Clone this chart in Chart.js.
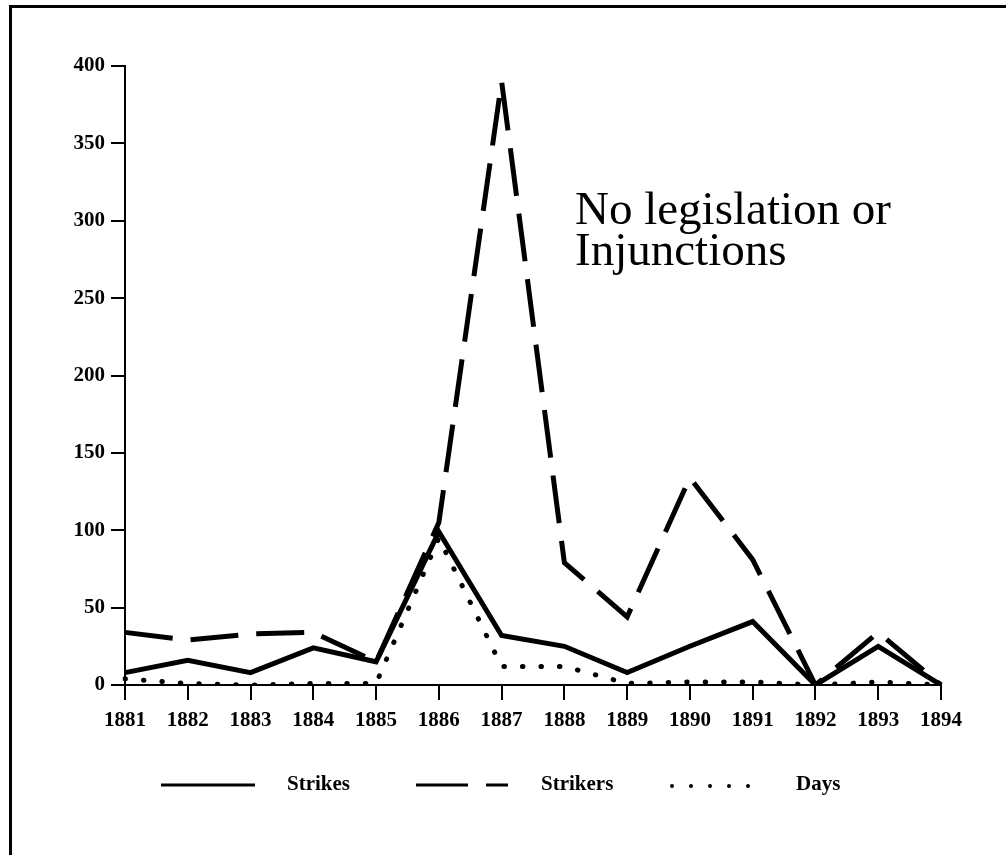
<!DOCTYPE html>
<html>
<head>
<meta charset="utf-8">
<script src="https://cdn.jsdelivr.net/npm/chart.js@4.4.0/dist/chart.umd.min.js"></script>
<style>
  html, body { margin: 0; padding: 0; background: #fff; }
  #wrap { position: relative; width: 1006px; height: 855px; }
</style>
</head>
<body>
<div id="wrap"><canvas id="lineChart" width="1006" height="855"></canvas></div>
<script>
var years = ['1881', '1882', '1883', '1884', '1885', '1886', '1887', '1888', '1889', '1890', '1891', '1892', '1893', '1894'];
var strikes = [8, 16, 8, 24, 15, 99, 32, 25, 8, 25, 41, 0, 25, 0];
var strikers = [34, 29, 33, 34, 15, 105, 390, 79, 44, 134, 81, 0, 34, 0];
var days = [4, 1, 0, 1, 1, 95, 12, 12, 1, 2, 2, 0, 2, 0];
var seriesNames = ['Strikes', 'Strikers', 'Days'];
var yTicks = [0, 50, 100, 150, 200, 250, 300, 350, 400];
var noteLines = ['No legislation or', 'Injunctions'];

var serif = '"Liberation Serif", "Times New Roman", serif';

// frame, note text and the legend are drawn by hand
var extras = {
    id: 'extras',
    afterDraw: function (chart) {
        var ctx = chart.ctx;
        ctx.save();
        ctx.fillStyle = '#000';
        ctx.fillRect(9, 5, 997, 3);
        ctx.fillRect(9, 5, 3, 850);

        ctx.font = '47px ' + serif;
        ctx.textBaseline = 'alphabetic';
        ctx.textAlign = 'left';
        ctx.fillText(noteLines[0], 575, 224);
        ctx.fillText(noteLines[1], 575, 265);

        var ly = 785;
        ctx.strokeStyle = '#000';
        ctx.lineWidth = 3;
        ctx.beginPath();
        ctx.moveTo(161, ly); ctx.lineTo(255, ly);
        ctx.stroke();

        ctx.setLineDash([52, 18, 22, 100]);
        ctx.beginPath();
        ctx.moveTo(416, ly); ctx.lineTo(508, ly);
        ctx.stroke();
        ctx.setLineDash([]);

        for (var i = 0; i < 5; i++) {
            ctx.beginPath();
            ctx.arc(672 + i * 19, ly + 1, 2, 0, Math.PI * 2);
            ctx.fill();
        }

        ctx.font = 'bold 21px ' + serif;
        ctx.textBaseline = 'middle';
        ctx.fillText(seriesNames[0], 287, ly);
        ctx.fillText(seriesNames[1], 541, ly);
        ctx.fillText(seriesNames[2], 796, ly);
        ctx.restore();
    }
};

var ctx = document.getElementById('lineChart');
var myChart = new Chart(ctx, {
    type: 'line',
    data: {
        labels: years,
        datasets: [
            {
                label: seriesNames[0],
                data: strikes,
                borderColor: '#000',
                borderWidth: 5,
                borderJoinStyle: 'miter',
                pointRadius: 0,
                tension: 0,
                fill: false
            },
            {
                label: seriesNames[1],
                data: strikers,
                borderColor: '#000',
                borderWidth: 5,
                borderDash: [48, 18],
                borderJoinStyle: 'miter',
                pointRadius: 0,
                tension: 0,
                fill: false
            },
            {
                label: seriesNames[2],
                data: days,
                borderColor: '#000',
                borderWidth: 5,
                borderDash: [0.5, 18],
                borderCapStyle: 'round',
                pointRadius: 0,
                tension: 0,
                fill: false
            }
        ]
    },
    options: {
        responsive: false,
        animation: false,
        layout: { padding: { left: 0, right: 65, top: 66, bottom: 0 } },
        plugins: {
            legend: { display: false },
            tooltip: { enabled: false }
        },
        scales: {
            x: {
                offset: false,
                afterFit: function (scale) { scale.height = 170; },
                grid: { drawOnChartArea: false, tickLength: 15, color: '#000', lineWidth: 2 },
                border: { color: '#000', width: 2 },
                ticks: {
                    color: '#000',
                    padding: 8,
                    maxRotation: 0,
                    autoSkip: false,
                    font: { family: serif, size: 21, weight: 'bold' }
                }
            },
            y: {
                min: 0,
                max: 400,
                afterFit: function (scale) { scale.width = 125; },
                afterBuildTicks: function (scale) {
                    scale.ticks = yTicks.map(function (v) { return { value: v }; });
                },
                grid: { drawOnChartArea: false, tickLength: 14, color: '#000', lineWidth: 2 },
                border: { color: '#000', width: 2 },
                ticks: {
                    color: '#000',
                    padding: 6,
                    font: { family: serif, size: 21, weight: 'bold' }
                }
            }
        }
    },
    plugins: [extras]
});
</script>
</body>
</html>
